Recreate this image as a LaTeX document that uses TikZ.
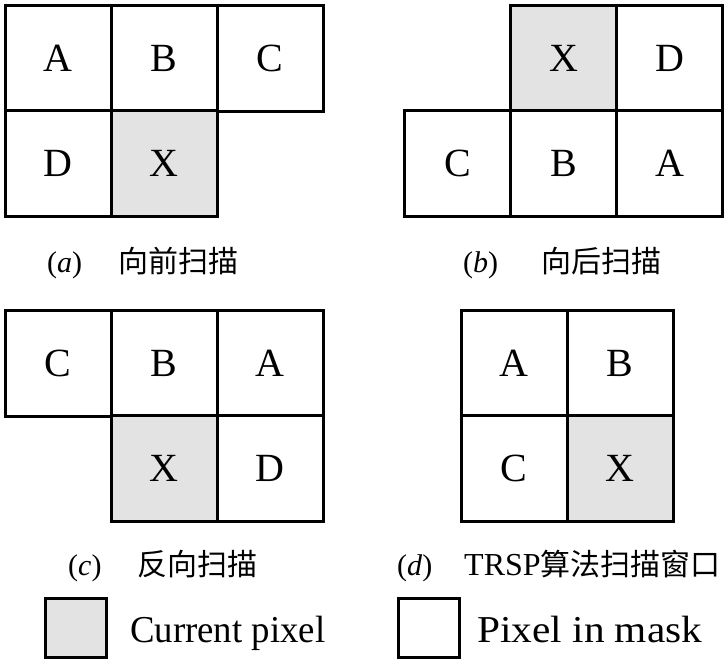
\documentclass[tikz,border=0pt]{standalone}
\usepackage{fontspec}
\usepackage{graphicx}
\setmainfont{Liberation Serif}
\newfontfamily\cjk{Noto Sans CJK SC}
\definecolor{cellgray}{HTML}{E3E3E3}
\tikzset{
  cell/.style={draw=black, line width=3pt, minimum width=106pt, minimum height=106pt, inner sep=0pt, font=\fontsize{40}{48}\selectfont, fill=white},
  cur/.style={cell, fill=cellgray},
  capt/.style={anchor=base west, inner sep=0pt, font=\fontsize{30}{36}\selectfont},
  legbox/.style={draw=black, line width=3pt, minimum width=61pt, minimum height=59pt, inner sep=0pt},
  legtext/.style={anchor=base west, inner sep=0pt, font=\fontsize{38}{44}\selectfont}
}
\begin{document}
\begin{tikzpicture}[x=1pt,y=-1pt]
\useasboundingbox (0,0) rectangle (725,662);
% (a)
\node[cell] (aA) at (58,58) {A};
\node[cell] (aB) at (164,58) {B};
\node[cell] (aC) at (270,58) {C};
\node[cell] (aD) at (58,163.5) {D};
\node[cur]  (aX) at (164,163.5) {X};
\node[capt] (capa) at (47,272) {\makebox[71pt][l]{(\textit{a})}{\cjk 向前扫描}};
% (b)
\node[cur]  (bX) at (563.5,58) {X};
\node[cell] (bD) at (669.5,58) {D};
\node[cell] (bC) at (457.5,163.5) {C};
\node[cell] (bB) at (563.5,163.5) {B};
\node[cell] (bA) at (669.5,163.5) {A};
\node[capt] (capb) at (463,272) {\makebox[78pt][l]{(\textit{b})}{\cjk 向后扫描}};
% (c)
\node[cell] (cC) at (58,363) {C};
\node[cell] (cB) at (164,363) {B};
\node[cell] (cA) at (270,363) {A};
\node[cur]  (cX) at (164,468.5) {X};
\node[cell] (cD) at (270,468.5) {D};
\node[capt] (capc) at (68,575) {\makebox[69pt][l]{(\textit{c})}{\cjk 反向扫描}};
% (d)
\node[cell] (dA) at (514,363) {A};
\node[cell] (dB) at (620,363) {B};
\node[cell] (dC) at (514,468.5) {C};
\node[cur]  (dX) at (620,468.5) {X};
\node[capt] (capd) at (397,575) {\makebox[67pt][l]{(\textit{d})}{\fontsize{32}{36}\selectfont TRSP}{\cjk 算法扫描窗口}};
% legend
\node[legbox, fill=cellgray] (lcur) at (75.5,627.5) {};
\node[legtext] (tcur) at (130,642) {\resizebox{195pt}{\height}{Current pixel}};
\node[legbox, fill=white] (lmask) at (428.5,627.5) {};
\node[legtext] (tmask) at (477,642) {\resizebox{225pt}{\height}{Pixel in mask}};
\end{tikzpicture}
\end{document}
